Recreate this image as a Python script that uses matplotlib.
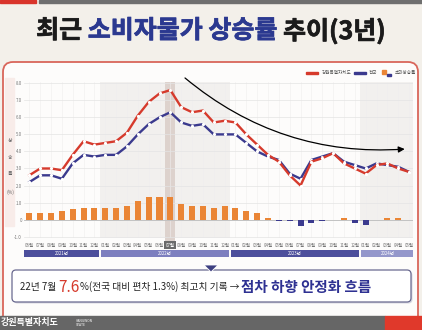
import matplotlib
matplotlib.use("Agg")
import matplotlib.pyplot as plt
import matplotlib.patheffects as pe
from matplotlib.patches import Rectangle, FancyBboxPatch, Polygon
from matplotlib.transforms import IdentityTransform

plt.rcParams['font.family'] = ['Noto Sans CJK KR', 'DejaVu Sans']

# ---- data ----
months = ['06월', '07월', '08월', '09월', '10월', '11월', '12월',
          '01월', '02월', '03월', '04월', '05월', '06월', '07월', '08월', '09월', '10월', '11월', '12월',
          '01월', '02월', '03월', '04월', '05월', '06월', '07월', '08월', '09월', '10월', '11월', '12월',
          '01월', '02월', '03월', '04월', '05월']
years = ['2021년', '2022년', '2023년', '2024년']
year_spans = [(-0.5, 6.4), (6.6, 18.4), (18.6, 30.4), (30.6, 35.4)]
gangwon = [2.6, 3.0, 3.0, 2.9, 3.8, 4.6, 4.4, 4.5, 4.6, 5.1, 6.1, 6.9, 7.4, 7.6, 6.6, 6.3, 6.4, 5.7,
           5.8, 5.7, 5.0, 4.4, 3.8, 3.4, 2.6, 2.0, 3.4, 3.6, 3.9, 3.3, 3.0, 2.7, 3.2, 3.3, 3.0, 2.8]
national = [2.2, 2.6, 2.6, 2.4, 3.3, 3.8, 3.7, 3.8, 3.8, 4.3, 5.0, 5.6, 6.0, 6.3, 5.7, 5.5, 5.6, 5.0,
            5.0, 5.0, 4.5, 4.0, 3.7, 3.5, 2.7, 2.4, 3.5, 3.7, 3.9, 3.4, 3.2, 3.0, 3.3, 3.2, 3.1, 2.8]
excess = [0.4, 0.4, 0.4, 0.5, 0.6, 0.7, 0.7, 0.7, 0.7, 0.8, 1.1, 1.3, 1.3, 1.3, 0.9, 0.8, 0.8, 0.7,
          0.8, 0.7, 0.5, 0.4, 0.1, -0.1, -0.1, -0.4, -0.2, -0.1, 0.0, 0.1, -0.2, -0.3, 0.0, 0.1, 0.1, 0.0]
yticks = [-1, 0, 1, 2, 3, 4, 5, 6, 7, 8]
ytick_labels = ['-1.0', '0', '1.0', '2.0', '3.0', '4.0', '5.0', '6.0', '7.0', '8.0']
peak_idx = 13

RED = '#d63a2c'
NAVY = '#3b3a8e'
ORANGE = '#ea8535'
W, H = 422, 330

fig = plt.figure(figsize=(W / 100, H / 100), dpi=100)
fig.patch.set_facecolor('#f3f0ea')
ident = IdentityTransform()


def box(x0, y0, x1, y1, **kw):
    # pixel box, y measured from top
    return Rectangle((x0, H - y1), x1 - x0, y1 - y0, transform=ident, **kw)


def put(x, y, s, **kw):
    return fig.text(x / W, 1 - y / H, s, **kw)


# top strip
fig.patches.append(box(0, 0, 36, 3, color='#d9342b'))
fig.patches.append(box(39, 0, W, 3, color='#6f6f6f'))

# white panel with red rounded border
panel = FancyBboxPatch((3, H - 340), 415, 340 - 62, boxstyle='round,pad=0,rounding_size=10',
                       transform=ident, fc='#fdfcfb', ec='#d9665b', lw=1.3, zorder=-5)
fig.patches.append(panel)

renderer = fig.canvas.get_renderer()


def run_text(pieces, x, y):
    # draw text pieces one after another, starting at pixel x
    for s, kw in pieces:
        t = put(x, y, s, va='center', ha='left', **kw)
        x += t.get_window_extent(renderer).width
    return x


# title (heavy weight, thickened with a thin stroke)
def heavy(c):
    return [pe.withStroke(linewidth=0.5, foreground=c)]


title = [('최근 ', dict(fontsize=18, fontweight='black', color='#1b1b1b', path_effects=heavy('#1b1b1b'))),
         ('소비자물가 상승률', dict(fontsize=18, fontweight='black', color='#2b3990', path_effects=heavy('#2b3990'))),
         (' 추이(3년)', dict(fontsize=18, fontweight='black', color='#1b1b1b', path_effects=heavy('#1b1b1b')))]
tw = 0
for s, kw in title:
    tmp = fig.text(0, 0, s, **kw)
    tw += tmp.get_window_extent(renderer).width
    tmp.remove()
run_text(title, W / 2 - tw / 2, 31)

# ---- chart ----
ax = fig.add_axes([0.0566, 0.2776, 0.923, 0.4727])
ax.set_zorder(2)
ax.set_facecolor('none')
ax.set_xlim(-0.5, 35.4)
ax.set_ylim(-1.1, 8.05)
for sp in ax.spines.values():
    sp.set_visible(False)

x = list(range(len(months)))
ax.axvspan(6.5, 18.5, color='#f2f0ee', zorder=0, lw=0)
ax.axvspan(30.5, 35.4, color='#f2f0ee', zorder=0, lw=0)
ax.add_patch(Rectangle((peak_idx - 0.45, -0.056), 0.9, 1.056, transform=ax.get_xaxis_transform(),
                       color='#ddd2cd', clip_on=False, zorder=0.5, lw=0))

ax.set_yticks(yticks, ytick_labels)
ax.set_xticks(x, months)
ax.grid(axis='y', color='#e4e4e4', lw=0.5, zorder=1)
ax.grid(axis='x', color='#f0eeee', lw=0.4, zorder=1)
ax.tick_params(length=0, labelsize=3.2, labelcolor='#777777')
ax.tick_params(axis='x', pad=3)
ax.tick_params(axis='y', pad=1.5)
lab = ax.get_xticklabels()[peak_idx]
lab.set_color('white')
lab.set_bbox(dict(boxstyle='square,pad=0.35', fc='#6b6b6b', ec='none'))

ax.axhline(0, color='#bcbcbc', lw=0.6, zorder=2)
bar_colors = [ORANGE if v >= 0 else NAVY for v in excess]
ax.bar(x, excess, width=0.56, color=bar_colors, zorder=3)

ax.plot(x, national, color=NAVY, lw=1.7, zorder=4, marker='o', ms=1.3, mfc='white', mec='white')
ax.plot(x, gangwon, color=RED, lw=1.7, zorder=5, marker='o', ms=1.3, mfc='white', mec='white')

# year bands under the month labels
for (a, b), yr, c in zip(year_spans, years, ['#4d4f9c', '#7d7fbf', '#4d4f9c', '#9497cb']):
    ax.add_patch(Rectangle((a, -0.119), b - a, 0.045, transform=ax.get_xaxis_transform(),
                           color=c, clip_on=False, lw=0))
    ax.text((a + b) / 2, -0.0965, yr, transform=ax.get_xaxis_transform(), ha='center', va='center',
            fontsize=3.2, color='white')

# trend arrow
ax.annotate('', xy=(34.6, 4.14), xytext=(14.35, 8.31), annotation_clip=False,
            arrowprops=dict(arrowstyle='-|>', connectionstyle='arc3,rad=0.2', color='black',
                            lw=0.9, mutation_scale=9, shrinkA=0, shrinkB=0))

# y label band
fig.patches.append(box(5, 78, 14, 226, color='#f8ece9'))
for s, yy in zip(['상', '승', '률', '(%)'], [140, 157, 174, 192]):
    put(10, yy, s, ha='center', va='center', fontsize=3.5, color='#666666')

# legend
ly = 73
fig.patches.append(box(306, ly - 1, 318, ly + 1, color=RED))
put(322, ly, '강원특별자치도', va='center', fontsize=3.3, color='#555555')
fig.patches.append(box(354, ly - 1, 366, ly + 1, color=NAVY))
put(369, ly, '전국', va='center', fontsize=3.3, color='#555555')
fig.patches.append(box(382, ly - 3, 386, ly + 0.5, color=ORANGE))
fig.patches.append(box(386.5, ly + 0.5, 391, ly + 2.5, color=NAVY))
put(395, ly, '초과상승률', va='center', fontsize=3.3, color='#555555')

# callout box
fig.patches.append(FancyBboxPatch((13.5, H - 303.5), 399, 32, boxstyle='round,pad=0,rounding_size=4',
                                  transform=ident, fc='#d8d8e2', ec='none'))
fig.patches.append(FancyBboxPatch((12, H - 302), 399, 32, boxstyle='round,pad=0,rounding_size=4',
                                  transform=ident, fc='white', ec='#6a6a90', lw=0.9))
fig.patches.append(Polygon([(204, H - 265), (218, H - 265), (211, H - 272)], closed=True,
                           transform=ident, fc='#3d3f80', ec='white', lw=0.6))
run_text([('22년 7월 ', dict(fontsize=7, color='#222222')),
          ('7.6', dict(fontsize=11, color=RED)),
          ('%(전국 대비 편차 1.3%) 최고치 기록 → ', dict(fontsize=7, color='#222222')),
          ('점차 하향 안정화 흐름', dict(fontsize=10.5, fontweight='bold', color='#2e3192'))],
         20, 287)

# footer
fig.patches.append(box(0, 316, 385, H, color='#666666'))
fig.patches.append(box(385, 316, W, H, color='#e0392b'))
put(1, 323, '강원특별자치도', va='center', fontsize=6.5, fontweight='bold', color='white')
put(76, 323, 'GANGWON\nSTATE', va='center', fontsize=2.4, color='white', linespacing=0.9)

fig.savefig('out.png', dpi=100, facecolor=fig.get_facecolor())
